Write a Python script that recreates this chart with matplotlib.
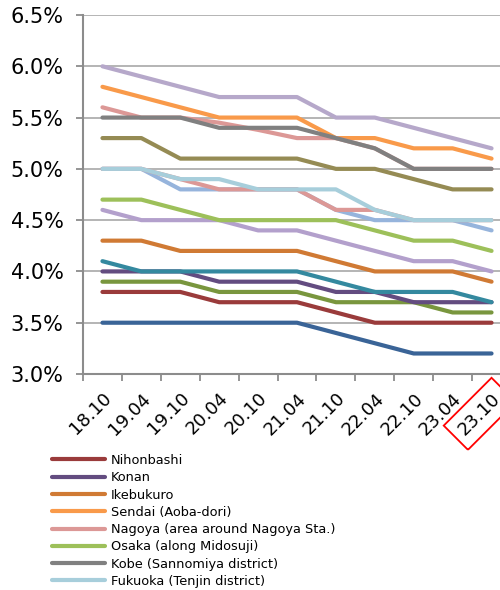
import matplotlib
matplotlib.use("Agg")
import matplotlib.pyplot as plt
import numpy as np

plt.rcParams['font.family'] = ['DejaVu Sans']

periods = ["18.10", "19.04", "19.10", "20.04", "20.10", "21.04",
           "21.10", "22.04", "22.10", "23.04", "23.10"]

# named districts (cap rate, %)
nihonbashi = [3.8, 3.8, 3.8, 3.7, 3.7, 3.7, 3.6, 3.5, 3.5, 3.5, 3.5]
konan = [4.0, 4.0, 4.0, 3.9, 3.9, 3.9, 3.8, 3.8, 3.7, 3.7, 3.7]
ikebukuro = [4.3, 4.3, 4.2, 4.2, 4.2, 4.2, 4.1, 4.0, 4.0, 4.0, 3.9]
sendai = [5.8, 5.7, 5.6, 5.5, 5.5, 5.5, 5.3, 5.3, 5.2, 5.2, 5.1]
nagoya = [5.6, 5.5, 5.5, 5.45, 5.38, 5.3, 5.3, 5.2, 5.0, 5.0, 5.0]
osaka = [4.7, 4.7, 4.6, 4.5, 4.5, 4.5, 4.5, 4.4, 4.3, 4.3, 4.2]
kobe = [5.5, 5.5, 5.5, 5.4, 5.4, 5.4, 5.3, 5.2, 5.0, 5.0, 5.0]
fukuoka = [5.0, 5.0, 4.9, 4.9, 4.8, 4.8, 4.8, 4.6, 4.5, 4.5, 4.5]

# remaining series (legend entries fall below the figure edge)
extra_lavender = [6.0, 5.9, 5.8, 5.7, 5.7, 5.7, 5.5, 5.5, 5.4, 5.3, 5.2]
extra_olive = [5.3, 5.3, 5.1, 5.1, 5.1, 5.1, 5.0, 5.0, 4.9, 4.8, 4.8]
extra_blue = [5.0, 5.0, 4.8, 4.8, 4.8, 4.8, 4.6, 4.5, 4.5, 4.5, 4.4]
extra_pink = [5.0, 5.0, 4.9, 4.8, 4.8, 4.8, 4.6, 4.6, 4.5, 4.5, 4.5]
extra_lilac = [4.6, 4.5, 4.5, 4.5, 4.4, 4.4, 4.3, 4.2, 4.1, 4.1, 4.0]
extra_teal = [4.1, 4.0, 4.0, 4.0, 4.0, 4.0, 3.9, 3.8, 3.8, 3.8, 3.7]
extra_green = [3.9, 3.9, 3.9, 3.8, 3.8, 3.8, 3.7, 3.7, 3.7, 3.6, 3.6]
extra_navy = [3.5, 3.5, 3.5, 3.5, 3.5, 3.5, 3.4, 3.3, 3.2, 3.2, 3.2]

named = [
    ("Nihonbashi", nihonbashi, "#9A3B3B"),
    ("Konan", konan, "#634C80"),
    ("Ikebukuro", ikebukuro, "#D07A34"),
    ("Sendai (Aoba-dori)", sendai, "#F99A4A"),
    ("Nagoya (area around Nagoya Sta.)", nagoya, "#DC9896"),
    ("Osaka (along Midosuji)", osaka, "#9DC05A"),
    ("Kobe (Sannomiya district)", kobe, "#808080"),
    ("Fukuoka (Tenjin district)", fukuoka, "#A7CEDB"),
]
others = [
    (extra_lavender, "#B6A8CA", 2),
    (extra_olive, "#958B54", 2),
    (extra_blue, "#96B4DC", 2),
    (extra_pink, "#DC9896", 2),
    (extra_lilac, "#B3A0CC", 2),
    (extra_teal, "#34899F", 4),
    (extra_green, "#79963E", 2),
    (extra_navy, "#3A6497", 2),
]

fig = plt.figure(figsize=(5, 5.9), dpi=100)
ax = fig.add_axes([0.166, 1 - 374 / 590, 0.856, (374 - 15) / 590])

x = np.arange(len(periods))
lw = 3.0
for vals, col, z in others:
    ax.plot(x, vals, color=col, lw=lw, solid_capstyle="round",
            solid_joinstyle="round", zorder=z)

handles = []
for name, vals, col in named:
    ln, = ax.plot(x, vals, color=col, lw=lw, solid_capstyle="round",
                  solid_joinstyle="round", zorder=3, label=name)
    handles.append(ln)

ax.set_xlim(-0.5, len(periods) - 0.5)
ax.set_ylim(3.0, 6.5)
yt = np.arange(3.0, 6.51, 0.5)
ax.set_yticks(yt)
ax.set_yticklabels([f"{v:.1f}%" for v in yt], fontsize=15)
ax.yaxis.grid(True, color="#A0A0A0", lw=1.1)
ax.set_axisbelow(True)

ax.set_xticks(x)
ax.set_xticklabels(periods, fontsize=13, rotation=45, ha="right",
                   va="top", rotation_mode="anchor")
ax.set_xticks(np.arange(-0.5, len(periods)), minor=True)
ax.tick_params(axis="x", which="major", length=0, pad=11)
ax.tick_params(axis="x", which="minor", length=5, width=1.3, color="#8C8C8C")
ax.tick_params(axis="y", length=5, width=1.3, color="#8C8C8C", pad=9)

for s in ["top", "right"]:
    ax.spines[s].set_visible(False)
for s in ["left", "bottom"]:
    ax.spines[s].set_color("#8C8C8C")
    ax.spines[s].set_linewidth(1.5)

# highlight the latest period
ax.get_xticklabels()[-1].set_bbox(dict(boxstyle="square,pad=0.45",
                                       fc="none", ec="red", lw=1.3))

fig.legend(handles=handles, labels=[n for n, _, _ in named],
           loc="upper left", bbox_to_anchor=(0.104, 1 - 454 / 590),
           frameon=False, fontsize=9.3, handlelength=4.1,
           handletextpad=0.45, labelspacing=0.33, borderpad=0,
           borderaxespad=0)

fig.savefig("out.png", dpi=100)
